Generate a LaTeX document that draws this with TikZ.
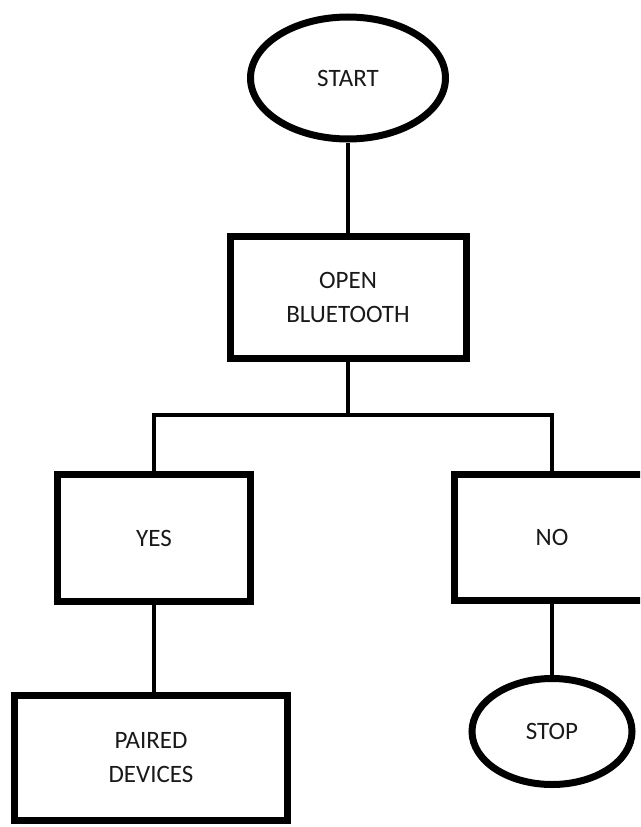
\documentclass[tikz,border=0pt]{standalone}
\usepackage{fontspec}
\setmainfont{Carlito}
\usetikzlibrary{shapes.geometric}
\tikzstyle{block}=[draw, rectangle, line width=7pt, align=center, text=black!90]
\tikzstyle{terminal}=[draw, ellipse, line width=7pt, text=black!90]
\tikzstyle{link}=[line width=4pt]

\begin{document}
\begin{tikzpicture}[x=1pt, y=-1pt, font=\fontsize{25}{34}\selectfont]
          \useasboundingbox (0,0) rectangle (640,827);
          \clip (0,0) rectangle (640,827);
          \node[terminal, minimum width=195pt, minimum height=122pt]
            (start) at (348,78) {START};
          \node[block, minimum width=236pt, minimum height=122pt]
            (bt) at (348,297.5) {OPEN\\BLUETOOTH};
          \node[block, minimum width=193pt, minimum height=127pt]
            (yes) at (154,538) {YES};
          \node[block, minimum width=195pt, minimum height=126pt]
            (no) at (552,537) {NO};
          \node[block, minimum width=273pt, minimum height=125pt]
            (paired) at (151,758) {PAIRED\\DEVICES};
          \node[terminal, minimum width=160pt, minimum height=106pt]
            (stop) at (552,731.5) {STOP};
          \coordinate (split) at (348,415);
          \draw[link] (start) -- (bt);
          \draw[link] (bt) -- (split);
          \draw[link] (split) -| (yes);
          \draw[link] (split) -| (no);
          \draw[link] (yes.south) -- (yes.south |- paired.north);
          \draw[link] (no) -- (stop);
        \end{tikzpicture}
\end{document}
